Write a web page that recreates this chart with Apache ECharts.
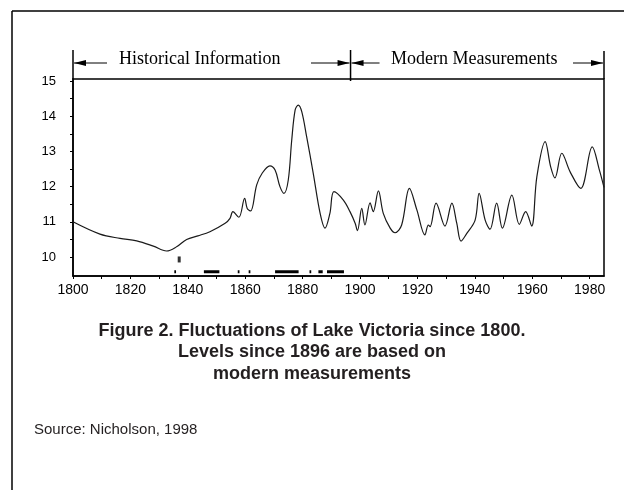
<!DOCTYPE html>
<html>
<head>
<meta charset="utf-8">
<script src="https://cdn.jsdelivr.net/npm/echarts@6/dist/echarts.min.js"></script>
<style>
  html, body { margin: 0; padding: 0; background: #fff; }
  #lake-level { width: 624px; height: 490px; }
</style>
</head>
<body>
<div id="lake-level"></div>
<script>
// lake level readings (year, level)
var years = [1800, 1809.4, 1816.4, 1822.2, 1828, 1832.6, 1836.1, 1839.6, 1843.5, 1847.7,
  1853, 1854.7, 1855.7, 1857.8, 1859.8, 1860.7, 1861.9, 1864, 1865.9, 1868.6,
  1870.4, 1872.1, 1873.5, 1875, 1876.2, 1877.4, 1878.5, 1879.7, 1881.4, 1883.7,
  1886.1, 1887.8, 1889.5, 1890.9, 1894.2, 1896.5, 1898.3, 1899.1, 1900.6, 1901.7,
  1903.5, 1904.6, 1906.4, 1908.1, 1910.5, 1912.2, 1914.5, 1917.2, 1919.8, 1922.6,
  1923.8, 1924.4, 1926.5, 1929.6, 1932, 1933.7, 1935.2, 1937.2, 1940.1, 1941.5,
  1943.6, 1945.3, 1947.6, 1949.6, 1952.9, 1955.5, 1957.7, 1959.8, 1961.6, 1964.5,
  1966.4, 1967.9, 1970.3, 1973.2, 1976.9, 1980.9, 1983.4, 1985];
var levels = [11.0, 10.65, 10.53, 10.46, 10.31, 10.17, 10.29, 10.5, 10.6, 10.72,
  10.96, 11.1, 11.29, 11.13, 11.67, 11.38, 11.31, 12.05, 12.38, 12.59,
  12.47, 12.0, 11.81, 12.19, 13.32, 14.18, 14.32, 14.13, 13.42, 12.38,
  11.24, 10.82, 11.24, 11.86, 11.62, 11.29, 10.96, 10.75, 11.38, 10.91,
  11.54, 11.29, 11.88, 11.24, 10.82, 10.69, 10.91, 11.95, 11.34, 10.63,
  10.91, 10.86, 11.53, 10.88, 11.53, 10.96, 10.45, 10.67, 11.05, 11.81,
  11.05, 10.79, 11.53, 10.82, 11.76, 10.93, 11.29, 10.88, 12.28, 13.28,
  12.57, 12.25, 12.95, 12.42, 11.95, 13.13, 12.47, 11.98];

// short marks along the bottom of the historical period
var markStart = [1835.3, 1845.6, 1857.4, 1861.2, 1870.4, 1882.4, 1885.5, 1888.5];
var markEnd = [1835.9, 1851, 1858, 1861.8, 1878.6, 1883, 1887, 1894.4];
var markLevel = 9.58;
var dotYear = [1837];
var dotLevel = [9.93];

// tick values
var xLabelYears = [1800, 1820, 1840, 1860, 1880, 1900, 1920, 1940, 1960, 1980];
var xTickYears = [1800, 1810, 1820, 1830, 1840, 1850, 1860, 1870, 1880, 1890, 1900,
  1910, 1920, 1930, 1940, 1950, 1960, 1970, 1980];
var yLabelValues = [10, 11, 12, 13, 14, 15];
var yTickValues = [10, 10.5, 11, 11.5, 12, 12.5, 13, 13.5, 14, 14.5, 15];
var modernStart = 1896;

var lineData = [];
for (var i = 0; i < years.length; i++) {
  lineData.push([years[i], levels[i]]);
}
var markData = [];
for (var j = 0; j < markStart.length; j++) {
  markData.push([markStart[j], markLevel]);
  markData.push([markEnd[j], markLevel]);
  markData.push(['-', '-']);
}
var dotData = [];
for (var k = 0; k < dotYear.length; k++) {
  dotData.push([dotYear[k], dotLevel[k]]);
}

var chartDom = document.getElementById('lake-level');
var myChart = echarts.init(chartDom, null, { renderer: 'canvas' });
var option;
option = {
  backgroundColor: '#fff',
  animation: false,
  grid: {
    left: 73,
    right: 20,
    top: 79,
    bottom: 214,
    show: true,
    borderColor: '#000',
    borderWidth: 1.5,
    backgroundColor: 'transparent'
  },
  xAxis: {
    type: 'value',
    min: 1800,
    max: 1985,
    splitLine: { show: false },
    axisLine: { show: true, lineStyle: { color: '#000', width: 1.5 } },
    axisTick: { show: true, length: 3, lineStyle: { color: '#000' }, customValues: xTickYears },
    axisLabel: {
      customValues: xLabelYears,
      formatter: function (v) { return String(v); },
      color: '#000',
      fontSize: 14,
      fontFamily: 'Liberation Sans, Arial',
      margin: 7
    }
  },
  yAxis: {
    type: 'value',
    min: 9.46,
    max: 15.06,
    splitLine: { show: false },
    axisLine: { show: true, lineStyle: { color: '#000', width: 1.5 } },
    axisTick: { show: true, length: 3, lineStyle: { color: '#000' }, customValues: yTickValues },
    axisLabel: {
      customValues: yLabelValues,
      color: '#000',
      fontSize: 13,
      fontFamily: 'Liberation Sans, Arial',
      margin: 17
    }
  },
  series: [
    {
      name: 'Lake level',
      type: 'line',
      data: lineData,
      smooth: 0.35,
      symbol: 'none',
      lineStyle: { color: '#1a1a1a', width: 1.2 }
    },
    {
      name: 'marks',
      type: 'line',
      data: markData,
      connectNulls: false,
      symbol: 'none',
      lineStyle: { color: '#000', width: 3 }
    },
    {
      name: 'dot',
      type: 'scatter',
      data: dotData,
      symbol: 'rect',
      symbolSize: [3, 6],
      itemStyle: { color: '#000' }
    }
  ]
};
option && myChart.setOption(option);

// header arrows above the plot, placed from the x scale
var xL = myChart.convertToPixel({ xAxisIndex: 0 }, 1800);
var xM = myChart.convertToPixel({ xAxisIndex: 0 }, modernStart) + 2;
var xR = myChart.convertToPixel({ xAxisIndex: 0 }, 1985);
var ay = 63;

function arrowHead(tipX, dir) {
  return {
    type: 'polygon',
    shape: { points: [[tipX, ay], [tipX + dir * 12, ay - 3], [tipX + dir * 12, ay + 3]] },
    style: { fill: '#000' }
  };
}
function seg(x1, y1, x2, y2, w) {
  return {
    type: 'line',
    shape: { x1: x1, y1: y1, x2: x2, y2: y2 },
    style: { stroke: '#000', lineWidth: w }
  };
}

myChart.setOption({
  graphic: [
    // page frame (top and left)
    seg(12, 11, 624, 11, 1.5),
    seg(12, 11, 12, 490, 1.5),
    // bars
    seg(xL, 50, xL, 79, 1.5),
    seg(xM, 50, xM, 81, 1.5),
    seg(xR, 51, xR, 79, 1.5),
    // historical arrows
    seg(xL + 1, ay, xL + 34, ay, 1),
    arrowHead(xL + 1, 1),
    seg(311, ay, xM - 1, ay, 1),
    arrowHead(xM - 1, -1),
    // modern arrows
    seg(xM + 1, ay, xM + 29, ay, 1),
    arrowHead(xM + 1, 1),
    seg(573, ay, xR - 1, ay, 1),
    arrowHead(xR - 1, -1),
    {
      type: 'text',
      left: 119,
      top: 50,
      style: { text: 'Historical Information', font: '18px "Liberation Serif", "Times New Roman", serif', fill: '#000' }
    },
    {
      type: 'text',
      left: 391,
      top: 50,
      style: { text: 'Modern Measurements', font: '18px "Liberation Serif", "Times New Roman", serif', fill: '#000' }
    },
    {
      type: 'text',
      x: 312,
      y: 320,
      style: {
        text: 'Figure 2. Fluctuations of Lake Victoria since 1800.\nLevels since 1896 are based on\nmodern measurements',
        font: 'bold 18px "Liberation Sans", Arial, sans-serif',
        fill: '#231f20',
        align: 'center',
        lineHeight: 21.5
      }
    },
    {
      type: 'text',
      left: 34,
      top: 422,
      style: { text: 'Source: Nicholson, 1998', font: '15px "Liberation Sans", Arial, sans-serif', fill: '#231f20' }
    }
  ]
});

window.addEventListener('resize', function () {
  myChart.resize();
});
</script>
</body>
</html>
